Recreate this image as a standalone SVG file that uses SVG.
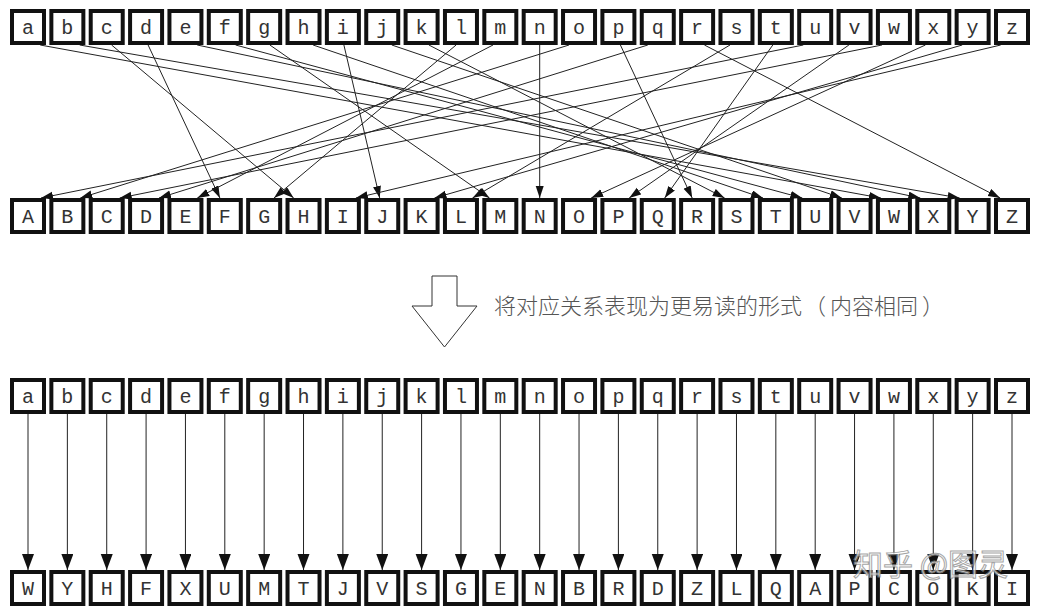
<svg xmlns="http://www.w3.org/2000/svg" width="1044" height="613" viewBox="0 0 1044 613">
<style>
.bx rect{fill:#fff;stroke:#111;stroke-width:4}
.bx text{font-family:"Liberation Mono","DejaVu Sans Mono",monospace;font-size:20px;fill:#333;text-anchor:middle}
.ln line{stroke:#222;stroke-width:1}
.ln .t{marker-end:url(#ah)}
.ln .b{marker-end:url(#ahb)}
.cap{font-family:"Noto Sans CJK SC","Noto Sans",sans-serif;font-size:22px;font-weight:300;fill:#555}
.wm{font-family:"Noto Sans CJK SC",sans-serif;font-size:30px;fill:#fff;stroke:#888;stroke-width:1;opacity:0.75}
</style>
<defs>
<marker id="ah" markerUnits="userSpaceOnUse" markerWidth="13" markerHeight="9" refX="12" refY="4" orient="auto"><path d="M0,0 L12,4 L0,8 z" fill="#111"/></marker>
<marker id="ahb" markerUnits="userSpaceOnUse" markerWidth="17" markerHeight="13" refX="16" refY="6" orient="auto"><path d="M0,0 L16,6 L0,12 z" fill="#111"/></marker>
</defs>
<rect width="1044" height="613" fill="#fff"/>

<g id="connectors" class="ln">
<line class="t" x1="40.2" y1="45" x2="880.9" y2="198"/>
<line class="t" x1="79.7" y1="45" x2="959.6" y2="198"/>
<line class="t" x1="111.6" y1="45" x2="293.7" y2="198"/>
<line class="t" x1="148.1" y1="45" x2="219.9" y2="198"/>
<line class="t" x1="197.2" y1="45" x2="920.3" y2="198"/>
<line class="t" x1="235.6" y1="45" x2="802.3" y2="198"/>
<line class="t" x1="269.9" y1="45" x2="489.5" y2="198"/>
<line class="t" x1="313.1" y1="45" x2="763.0" y2="198"/>
<line class="t" x1="343.9" y1="45" x2="379.7" y2="198"/>
<line class="t" x1="391.8" y1="45" x2="841.8" y2="198"/>
<line class="t" x1="428.9" y1="45" x2="724.6" y2="198"/>
<line class="t" x1="456.1" y1="45" x2="274.0" y2="198"/>
<line class="t" x1="493.0" y1="45" x2="197.3" y2="198"/>
<line class="t" x1="539.7" y1="45" x2="539.7" y2="198"/>
<line class="t" x1="569.0" y1="45" x2="80.3" y2="198"/>
<line class="t" x1="620.4" y1="45" x2="692.2" y2="198"/>
<line class="t" x1="647.8" y1="45" x2="159.0" y2="198"/>
<line class="t" x1="704.4" y1="45" x2="1000.1" y2="198"/>
<line class="t" x1="730.0" y1="45" x2="472.5" y2="198"/>
<line class="t" x1="772.8" y1="45" x2="664.7" y2="198"/>
<line class="t" x1="803.3" y1="45" x2="41.0" y2="198"/>
<line class="t" x1="848.9" y1="45" x2="629.2" y2="198"/>
<line class="t" x1="882.0" y1="45" x2="119.7" y2="198"/>
<line class="t" x1="925.4" y1="45" x2="591.2" y2="198"/>
<line class="t" x1="962.2" y1="45" x2="434.5" y2="198"/>
<line class="t" x1="1000.7" y1="45" x2="355.9" y2="198"/>

<line class="b" x1="28" y1="414" x2="28" y2="570"/>
<line class="b" x1="67.36" y1="414" x2="67.36" y2="570"/>
<line class="b" x1="106.72" y1="414" x2="106.72" y2="570"/>
<line class="b" x1="146.08" y1="414" x2="146.08" y2="570"/>
<line class="b" x1="185.44" y1="414" x2="185.44" y2="570"/>
<line class="b" x1="224.8" y1="414" x2="224.8" y2="570"/>
<line class="b" x1="264.16" y1="414" x2="264.16" y2="570"/>
<line class="b" x1="303.52" y1="414" x2="303.52" y2="570"/>
<line class="b" x1="342.88" y1="414" x2="342.88" y2="570"/>
<line class="b" x1="382.24" y1="414" x2="382.24" y2="570"/>
<line class="b" x1="421.6" y1="414" x2="421.6" y2="570"/>
<line class="b" x1="460.96" y1="414" x2="460.96" y2="570"/>
<line class="b" x1="500.32" y1="414" x2="500.32" y2="570"/>
<line class="b" x1="539.68" y1="414" x2="539.68" y2="570"/>
<line class="b" x1="579.04" y1="414" x2="579.04" y2="570"/>
<line class="b" x1="618.4" y1="414" x2="618.4" y2="570"/>
<line class="b" x1="657.76" y1="414" x2="657.76" y2="570"/>
<line class="b" x1="697.12" y1="414" x2="697.12" y2="570"/>
<line class="b" x1="736.48" y1="414" x2="736.48" y2="570"/>
<line class="b" x1="775.84" y1="414" x2="775.84" y2="570"/>
<line class="b" x1="815.2" y1="414" x2="815.2" y2="570"/>
<line class="b" x1="854.56" y1="414" x2="854.56" y2="570"/>
<line class="b" x1="893.92" y1="414" x2="893.92" y2="570"/>
<line class="b" x1="933.28" y1="414" x2="933.28" y2="570"/>
<line class="b" x1="972.64" y1="414" x2="972.64" y2="570"/>
<line class="b" x1="1012" y1="414" x2="1012" y2="570"/>
</g>

<!-- row 1: lowercase -->
<g id="top-a" class="bx" transform="translate(12,11)"><rect width="32" height="32"/><text x="16" y="22.5">a</text></g>
<g id="top-b" class="bx" transform="translate(51.36,11)"><rect width="32" height="32"/><text x="16" y="22.5">b</text></g>
<g id="top-c" class="bx" transform="translate(90.72,11)"><rect width="32" height="32"/><text x="16" y="22.5">c</text></g>
<g id="top-d" class="bx" transform="translate(130.08,11)"><rect width="32" height="32"/><text x="16" y="22.5">d</text></g>
<g id="top-e" class="bx" transform="translate(169.44,11)"><rect width="32" height="32"/><text x="16" y="22.5">e</text></g>
<g id="top-f" class="bx" transform="translate(208.8,11)"><rect width="32" height="32"/><text x="16" y="22.5">f</text></g>
<g id="top-g" class="bx" transform="translate(248.16,11)"><rect width="32" height="32"/><text x="16" y="22.5">g</text></g>
<g id="top-h" class="bx" transform="translate(287.52,11)"><rect width="32" height="32"/><text x="16" y="22.5">h</text></g>
<g id="top-i" class="bx" transform="translate(326.88,11)"><rect width="32" height="32"/><text x="16" y="22.5">i</text></g>
<g id="top-j" class="bx" transform="translate(366.24,11)"><rect width="32" height="32"/><text x="16" y="22.5">j</text></g>
<g id="top-k" class="bx" transform="translate(405.6,11)"><rect width="32" height="32"/><text x="16" y="22.5">k</text></g>
<g id="top-l" class="bx" transform="translate(444.96,11)"><rect width="32" height="32"/><text x="16" y="22.5">l</text></g>
<g id="top-m" class="bx" transform="translate(484.32,11)"><rect width="32" height="32"/><text x="16" y="22.5">m</text></g>
<g id="top-n" class="bx" transform="translate(523.68,11)"><rect width="32" height="32"/><text x="16" y="22.5">n</text></g>
<g id="top-o" class="bx" transform="translate(563.04,11)"><rect width="32" height="32"/><text x="16" y="22.5">o</text></g>
<g id="top-p" class="bx" transform="translate(602.4,11)"><rect width="32" height="32"/><text x="16" y="22.5">p</text></g>
<g id="top-q" class="bx" transform="translate(641.76,11)"><rect width="32" height="32"/><text x="16" y="22.5">q</text></g>
<g id="top-r" class="bx" transform="translate(681.12,11)"><rect width="32" height="32"/><text x="16" y="22.5">r</text></g>
<g id="top-s" class="bx" transform="translate(720.48,11)"><rect width="32" height="32"/><text x="16" y="22.5">s</text></g>
<g id="top-t" class="bx" transform="translate(759.84,11)"><rect width="32" height="32"/><text x="16" y="22.5">t</text></g>
<g id="top-u" class="bx" transform="translate(799.2,11)"><rect width="32" height="32"/><text x="16" y="22.5">u</text></g>
<g id="top-v" class="bx" transform="translate(838.56,11)"><rect width="32" height="32"/><text x="16" y="22.5">v</text></g>
<g id="top-w" class="bx" transform="translate(877.92,11)"><rect width="32" height="32"/><text x="16" y="22.5">w</text></g>
<g id="top-x" class="bx" transform="translate(917.28,11)"><rect width="32" height="32"/><text x="16" y="22.5">x</text></g>
<g id="top-y" class="bx" transform="translate(956.64,11)"><rect width="32" height="32"/><text x="16" y="22.5">y</text></g>
<g id="top-z" class="bx" transform="translate(996,11)"><rect width="32" height="32"/><text x="16" y="22.5">z</text></g>

<!-- row 2: uppercase -->
<g id="up-A" class="bx" transform="translate(12,200)"><rect width="32" height="32"/><text x="16" y="22.5">A</text></g>
<g id="up-B" class="bx" transform="translate(51.36,200)"><rect width="32" height="32"/><text x="16" y="22.5">B</text></g>
<g id="up-C" class="bx" transform="translate(90.72,200)"><rect width="32" height="32"/><text x="16" y="22.5">C</text></g>
<g id="up-D" class="bx" transform="translate(130.08,200)"><rect width="32" height="32"/><text x="16" y="22.5">D</text></g>
<g id="up-E" class="bx" transform="translate(169.44,200)"><rect width="32" height="32"/><text x="16" y="22.5">E</text></g>
<g id="up-F" class="bx" transform="translate(208.8,200)"><rect width="32" height="32"/><text x="16" y="22.5">F</text></g>
<g id="up-G" class="bx" transform="translate(248.16,200)"><rect width="32" height="32"/><text x="16" y="22.5">G</text></g>
<g id="up-H" class="bx" transform="translate(287.52,200)"><rect width="32" height="32"/><text x="16" y="22.5">H</text></g>
<g id="up-I" class="bx" transform="translate(326.88,200)"><rect width="32" height="32"/><text x="16" y="22.5">I</text></g>
<g id="up-J" class="bx" transform="translate(366.24,200)"><rect width="32" height="32"/><text x="16" y="22.5">J</text></g>
<g id="up-K" class="bx" transform="translate(405.6,200)"><rect width="32" height="32"/><text x="16" y="22.5">K</text></g>
<g id="up-L" class="bx" transform="translate(444.96,200)"><rect width="32" height="32"/><text x="16" y="22.5">L</text></g>
<g id="up-M" class="bx" transform="translate(484.32,200)"><rect width="32" height="32"/><text x="16" y="22.5">M</text></g>
<g id="up-N" class="bx" transform="translate(523.68,200)"><rect width="32" height="32"/><text x="16" y="22.5">N</text></g>
<g id="up-O" class="bx" transform="translate(563.04,200)"><rect width="32" height="32"/><text x="16" y="22.5">O</text></g>
<g id="up-P" class="bx" transform="translate(602.4,200)"><rect width="32" height="32"/><text x="16" y="22.5">P</text></g>
<g id="up-Q" class="bx" transform="translate(641.76,200)"><rect width="32" height="32"/><text x="16" y="22.5">Q</text></g>
<g id="up-R" class="bx" transform="translate(681.12,200)"><rect width="32" height="32"/><text x="16" y="22.5">R</text></g>
<g id="up-S" class="bx" transform="translate(720.48,200)"><rect width="32" height="32"/><text x="16" y="22.5">S</text></g>
<g id="up-T" class="bx" transform="translate(759.84,200)"><rect width="32" height="32"/><text x="16" y="22.5">T</text></g>
<g id="up-U" class="bx" transform="translate(799.2,200)"><rect width="32" height="32"/><text x="16" y="22.5">U</text></g>
<g id="up-V" class="bx" transform="translate(838.56,200)"><rect width="32" height="32"/><text x="16" y="22.5">V</text></g>
<g id="up-W" class="bx" transform="translate(877.92,200)"><rect width="32" height="32"/><text x="16" y="22.5">W</text></g>
<g id="up-X" class="bx" transform="translate(917.28,200)"><rect width="32" height="32"/><text x="16" y="22.5">X</text></g>
<g id="up-Y" class="bx" transform="translate(956.64,200)"><rect width="32" height="32"/><text x="16" y="22.5">Y</text></g>
<g id="up-Z" class="bx" transform="translate(996,200)"><rect width="32" height="32"/><text x="16" y="22.5">Z</text></g>

<!-- transition arrow and caption -->
<g id="transition">
<polygon points="432,276 457,276 457,306 477,306 444.5,347 412,306 432,306" fill="#fff" stroke="#333" stroke-width="1"/>
<text class="cap" x="494" y="314">将对应关系表现为更易读的形式<tspan dx="2">（</tspan><tspan dx="4">内容相同</tspan><tspan dx="4">）</tspan></text>
</g>

<!-- row 3: lowercase -->
<g id="low-a" class="bx" transform="translate(12,380)"><rect width="32" height="32"/><text x="16" y="22.5">a</text></g>
<g id="low-b" class="bx" transform="translate(51.36,380)"><rect width="32" height="32"/><text x="16" y="22.5">b</text></g>
<g id="low-c" class="bx" transform="translate(90.72,380)"><rect width="32" height="32"/><text x="16" y="22.5">c</text></g>
<g id="low-d" class="bx" transform="translate(130.08,380)"><rect width="32" height="32"/><text x="16" y="22.5">d</text></g>
<g id="low-e" class="bx" transform="translate(169.44,380)"><rect width="32" height="32"/><text x="16" y="22.5">e</text></g>
<g id="low-f" class="bx" transform="translate(208.8,380)"><rect width="32" height="32"/><text x="16" y="22.5">f</text></g>
<g id="low-g" class="bx" transform="translate(248.16,380)"><rect width="32" height="32"/><text x="16" y="22.5">g</text></g>
<g id="low-h" class="bx" transform="translate(287.52,380)"><rect width="32" height="32"/><text x="16" y="22.5">h</text></g>
<g id="low-i" class="bx" transform="translate(326.88,380)"><rect width="32" height="32"/><text x="16" y="22.5">i</text></g>
<g id="low-j" class="bx" transform="translate(366.24,380)"><rect width="32" height="32"/><text x="16" y="22.5">j</text></g>
<g id="low-k" class="bx" transform="translate(405.6,380)"><rect width="32" height="32"/><text x="16" y="22.5">k</text></g>
<g id="low-l" class="bx" transform="translate(444.96,380)"><rect width="32" height="32"/><text x="16" y="22.5">l</text></g>
<g id="low-m" class="bx" transform="translate(484.32,380)"><rect width="32" height="32"/><text x="16" y="22.5">m</text></g>
<g id="low-n" class="bx" transform="translate(523.68,380)"><rect width="32" height="32"/><text x="16" y="22.5">n</text></g>
<g id="low-o" class="bx" transform="translate(563.04,380)"><rect width="32" height="32"/><text x="16" y="22.5">o</text></g>
<g id="low-p" class="bx" transform="translate(602.4,380)"><rect width="32" height="32"/><text x="16" y="22.5">p</text></g>
<g id="low-q" class="bx" transform="translate(641.76,380)"><rect width="32" height="32"/><text x="16" y="22.5">q</text></g>
<g id="low-r" class="bx" transform="translate(681.12,380)"><rect width="32" height="32"/><text x="16" y="22.5">r</text></g>
<g id="low-s" class="bx" transform="translate(720.48,380)"><rect width="32" height="32"/><text x="16" y="22.5">s</text></g>
<g id="low-t" class="bx" transform="translate(759.84,380)"><rect width="32" height="32"/><text x="16" y="22.5">t</text></g>
<g id="low-u" class="bx" transform="translate(799.2,380)"><rect width="32" height="32"/><text x="16" y="22.5">u</text></g>
<g id="low-v" class="bx" transform="translate(838.56,380)"><rect width="32" height="32"/><text x="16" y="22.5">v</text></g>
<g id="low-w" class="bx" transform="translate(877.92,380)"><rect width="32" height="32"/><text x="16" y="22.5">w</text></g>
<g id="low-x" class="bx" transform="translate(917.28,380)"><rect width="32" height="32"/><text x="16" y="22.5">x</text></g>
<g id="low-y" class="bx" transform="translate(956.64,380)"><rect width="32" height="32"/><text x="16" y="22.5">y</text></g>
<g id="low-z" class="bx" transform="translate(996,380)"><rect width="32" height="32"/><text x="16" y="22.5">z</text></g>

<!-- row 4: mapped uppercase -->
<g id="map-a-W" class="bx" transform="translate(12,572)"><rect width="32" height="32"/><text x="16" y="22.5">W</text></g>
<g id="map-b-Y" class="bx" transform="translate(51.36,572)"><rect width="32" height="32"/><text x="16" y="22.5">Y</text></g>
<g id="map-c-H" class="bx" transform="translate(90.72,572)"><rect width="32" height="32"/><text x="16" y="22.5">H</text></g>
<g id="map-d-F" class="bx" transform="translate(130.08,572)"><rect width="32" height="32"/><text x="16" y="22.5">F</text></g>
<g id="map-e-X" class="bx" transform="translate(169.44,572)"><rect width="32" height="32"/><text x="16" y="22.5">X</text></g>
<g id="map-f-U" class="bx" transform="translate(208.8,572)"><rect width="32" height="32"/><text x="16" y="22.5">U</text></g>
<g id="map-g-M" class="bx" transform="translate(248.16,572)"><rect width="32" height="32"/><text x="16" y="22.5">M</text></g>
<g id="map-h-T" class="bx" transform="translate(287.52,572)"><rect width="32" height="32"/><text x="16" y="22.5">T</text></g>
<g id="map-i-J" class="bx" transform="translate(326.88,572)"><rect width="32" height="32"/><text x="16" y="22.5">J</text></g>
<g id="map-j-V" class="bx" transform="translate(366.24,572)"><rect width="32" height="32"/><text x="16" y="22.5">V</text></g>
<g id="map-k-S" class="bx" transform="translate(405.6,572)"><rect width="32" height="32"/><text x="16" y="22.5">S</text></g>
<g id="map-l-G" class="bx" transform="translate(444.96,572)"><rect width="32" height="32"/><text x="16" y="22.5">G</text></g>
<g id="map-m-E" class="bx" transform="translate(484.32,572)"><rect width="32" height="32"/><text x="16" y="22.5">E</text></g>
<g id="map-n-N" class="bx" transform="translate(523.68,572)"><rect width="32" height="32"/><text x="16" y="22.5">N</text></g>
<g id="map-o-B" class="bx" transform="translate(563.04,572)"><rect width="32" height="32"/><text x="16" y="22.5">B</text></g>
<g id="map-p-R" class="bx" transform="translate(602.4,572)"><rect width="32" height="32"/><text x="16" y="22.5">R</text></g>
<g id="map-q-D" class="bx" transform="translate(641.76,572)"><rect width="32" height="32"/><text x="16" y="22.5">D</text></g>
<g id="map-r-Z" class="bx" transform="translate(681.12,572)"><rect width="32" height="32"/><text x="16" y="22.5">Z</text></g>
<g id="map-s-L" class="bx" transform="translate(720.48,572)"><rect width="32" height="32"/><text x="16" y="22.5">L</text></g>
<g id="map-t-Q" class="bx" transform="translate(759.84,572)"><rect width="32" height="32"/><text x="16" y="22.5">Q</text></g>
<g id="map-u-A" class="bx" transform="translate(799.2,572)"><rect width="32" height="32"/><text x="16" y="22.5">A</text></g>
<g id="map-v-P" class="bx" transform="translate(838.56,572)"><rect width="32" height="32"/><text x="16" y="22.5">P</text></g>
<g id="map-w-C" class="bx" transform="translate(877.92,572)"><rect width="32" height="32"/><text x="16" y="22.5">C</text></g>
<g id="map-x-O" class="bx" transform="translate(917.28,572)"><rect width="32" height="32"/><text x="16" y="22.5">O</text></g>
<g id="map-y-K" class="bx" transform="translate(956.64,572)"><rect width="32" height="32"/><text x="16" y="22.5">K</text></g>
<g id="map-z-I" class="bx" transform="translate(996,572)"><rect width="32" height="32"/><text x="16" y="22.5">I</text></g>

<text class="wm" x="853" y="575">知乎 @图灵</text>
</svg>
